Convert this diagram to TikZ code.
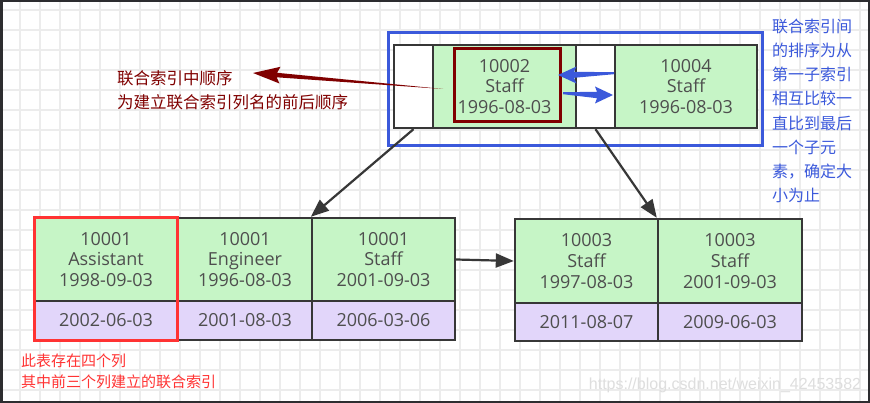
\documentclass[tikz,border=0pt]{standalone}
\usepackage{fontspec}
\setmainfont{Open Sans}
\newfontfamily\cjk{Noto Sans CJK SC}
\newfontfamily\wmfont{Liberation Sans}
\usetikzlibrary{arrows.meta,calc}
\definecolor{gridc}{RGB}{236,236,236}
\definecolor{framec}{RGB}{45,45,48}
\definecolor{bordc}{RGB}{55,55,55}
\definecolor{textc}{RGB}{78,78,78}
\definecolor{greenc}{RGB}{198,245,198}
\definecolor{purplec}{RGB}{226,214,250}
\definecolor{darkredc}{RGB}{128,0,0}
\definecolor{bluec}{RGB}{59,89,219}
\definecolor{redc}{RGB}{255,51,51}
\definecolor{wmc}{RGB}{222,222,222}
\tikzset{
  cell/.style={draw=bordc, line width=2.4pt, inner sep=0pt, align=center,
    text=textc, font=\fontsize{18}{20.8}\selectfont},
  gcell/.style={cell, fill=greenc},
  wcell/.style={cell, fill=white},
  pcell/.style={cell, fill=purplec},
  conn/.style={draw=bordc, line width=2.2pt, -{Triangle[length=18pt,width=14pt]}},
  cjktext/.style={inner sep=0pt, align=left, anchor=north west},
}
\begin{document}
\begin{tikzpicture}[x=1pt,y=-1pt]
\useasboundingbox (0,0) rectangle (870,403);
\fill[white] (0,0) rectangle (870,403);
% grid
\foreach \gx in {20,40,...,860} \draw[gridc, line width=1.3pt] (\gx,0) -- (\gx,403);
\foreach \gy in {10,30,...,400} \draw[gridc, line width=1.3pt] (0,\gy) -- (870,\gy);

% top node
\node[wcell, minimum width=39pt, minimum height=83pt] (t1) at (413.5,86.5) {};
\node[gcell, minimum width=143pt, minimum height=83pt] (t2) at (504.5,86.5) {10002\\Staff\\1996-08-03};
\node[wcell, minimum width=39pt, minimum height=83pt] (t3) at (595.5,86.5) {};
\node[gcell, minimum width=142pt, minimum height=83pt] (t4) at (686,86.5) {10004\\Staff\\1996-08-03};

% bottom left leaf
\node[gcell, minimum width=144pt, minimum height=83pt] (a1) at (106,259.5) {10001\\Assistant\\1998-09-03};
\node[gcell, minimum width=134pt, minimum height=83pt] (a2) at (245,259.5) {10001\\Engineer\\1996-08-03};
\node[gcell, minimum width=143pt, minimum height=83pt] (a3) at (383.5,259.5) {10001\\Staff\\2001-09-03};
\node[pcell, minimum width=144pt, minimum height=39pt] (pa1) at (106,320.5) {2002-06-03};
\node[pcell, minimum width=134pt, minimum height=39pt] (pa2) at (245,320.5) {2001-08-03};
\node[pcell, minimum width=143pt, minimum height=39pt] (pa3) at (383.5,320.5) {2006-03-06};

% bottom right leaf
\node[gcell, minimum width=143pt, minimum height=84pt] (b1) at (586.5,261) {10003\\Staff\\1997-08-03};
\node[gcell, minimum width=144pt, minimum height=84pt] (b2) at (730,261) {10003\\Staff\\2001-09-03};
\node[pcell, minimum width=143pt, minimum height=38pt] (pb1) at (586.5,322) {2011-08-07};
\node[pcell, minimum width=144pt, minimum height=38pt] (pb2) at (730,322) {2009-06-03};

% highlight boxes
\node[draw=darkredc, line width=3pt, minimum width=106pt, minimum height=73pt, inner sep=0pt] (hb) at (507,85.5) {};
\node[draw=bluec, line width=3pt, minimum width=374pt, minimum height=113pt, inner sep=0pt] (blue) at (575,89.5) {};
\node[draw=redc, line width=3pt, minimum width=143pt, minimum height=122pt, inner sep=0pt] (redbox) at (105.5,279) {};

% connectors
\draw[conn] (t1.south) -- (a3.north west);
\draw[conn] (t3.south) -- (b2.north west);
\draw[conn] (a3.east) -- (b1.west);

% dark red tapered arrow
\coordinate (rtail) at (443,89);
\coordinate (rtip) at (253,73);
\fill[darkredc] (rtail) -- (276.7,77.3) -- (279.5,83.5) -- (rtip) -- (280.5,66.8) -- (277.1,72.8) -- cycle;

% blue tapered arrows
\coordinate (bltip) at (558,75);
\coordinate (brtip) at (613,95);
\fill[bluec] (614,72.2) -- (574,71.8) -- (576.5,66.5) -- (bltip) -- (576.5,83.5) -- (574,77.8) -- (614,74.2) -- cycle;
\fill[bluec] (563,92.2) -- (597,91.8) -- (595,86.5) -- (brtip) -- (595,103.5) -- (597,98.2) -- (563,94.2) -- cycle;

% texts
\node[cjktext, text=darkredc, font=\cjk\fontsize{16.5}{24}\selectfont] (lbl1) at (117,70) {联合索引中顺序\\为建立联合索引列名的前后顺序};
\node[cjktext, text=bluec, font=\cjk\fontsize{16}{24.1}\selectfont] (lbl2) at (772,19) {联合索引间\\的排序为从\\第一子索引\\相互比较一\\直比到最后\\一个子元\\素，确定大\\小为止};
\node[cjktext, text=redc, font=\cjk\fontsize{15}{21}\selectfont] (lbl3) at (21,353.5) {此表存在四个列\\其中前三个列建立的联合索引};
\node[text=wmc, font=\wmfont\fontsize{16}{18}\selectfont, inner sep=0pt] (wm) at (725,385) {https://blog.csdn.net/weixin\_42453582};

% frame
\draw[framec, line width=5pt] (0,0) rectangle (870,403);
\end{tikzpicture}
\end{document}
